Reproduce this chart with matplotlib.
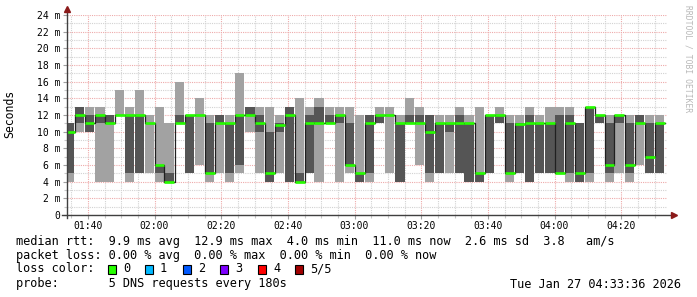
import matplotlib
matplotlib.use('Agg')
import matplotlib.pyplot as plt
import matplotlib.dates as mdates
from matplotlib.patches import Rectangle
from matplotlib.ticker import MultipleLocator, FuncFormatter
import numpy as np
import pandas as pd

W, H = 697, 297

# 5 sorted pings per 3 minute step (ms): min, 2nd, median, 4th, max
ping_min = [4, 10, 10, 4, 4, 12, 4, 5, 5, 4, 4, 11, 5, 6, 4, 5, 4, 5, 10, 5,
            4, 5, 4, 4, 5, 4, 11, 4, 5, 4, 4, 11, 5, 4, 11, 6, 4, 5, 5, 5,
            4, 4, 5, 11, 4, 5, 4, 5, 5, 5, 4, 4, 4, 11, 4, 5, 4, 6, 5, 5]
ping_lo = [5, 11, 10, 11, 11, 12, 5, 5, 11, 5, 4, 11, 5, 12, 5, 11, 5, 6, 12, 10,
           4, 10, 4, 4, 5, 11, 11, 11, 6, 4, 5, 11, 12, 4, 11, 11, 5, 5, 10, 5,
           4, 4, 5, 11, 5, 5, 4, 5, 5, 5, 5, 4, 5, 11, 5, 11, 5, 11, 5, 5]
median = [10, 12, 11, 12, 11, 12, 12, 12, 11, 6, 4, 11, 12, 12, 5, 11, 11, 12, 12, 11,
          5, 10.8, 12, 4, 11, 11, 11, 12, 6, 5, 11, 12, 12, 11, 11, 11, 10, 11, 11, 11,
          11, 5, 12, 12, 5, 10.9, 11, 11, 11, 5, 11, 5, 13, 12, 6, 12, 6, 11, 7, 11]
ping_hi = [11, 13, 12, 12, 12, 12, 12, 12, 11, 6, 5, 12, 12, 12, 11, 12, 11, 12, 13, 12,
           10, 11, 13, 5, 12, 13, 12, 12, 11, 5, 12, 12, 12, 11, 12, 12, 12, 11, 11, 12,
           11, 5, 12, 12, 11, 11, 12, 11, 11, 12, 12, 11, 13, 12, 11, 12, 11, 12, 11, 11]
ping_max = [11, 13, 13, 13, 12, 15, 13, 15, 12, 13, 11, 16, 12, 14, 12, 12, 12, 17, 13, 13,
            13, 12, 13, 14, 13, 14, 13, 13, 13, 12, 12, 13, 13, 12, 14, 13, 12, 12, 12, 13,
            12, 13, 12, 13, 12, 12, 13, 12, 13, 13, 13, 11, 13, 12, 12, 12, 12, 12, 12, 12]

steps = pd.date_range('2026-01-27 01:33', periods=len(median), freq='3min')
t_start = pd.Timestamp('2026-01-27 01:33:36')
t_end = pd.Timestamp('2026-01-27 04:33:36')

loss_labels = ['0', '1', '2', '3', '4', '5/5']
loss_colors = ['#26ff00', '#00b8ff', '#0059ff', '#7e00ff', '#ff0000', '#a10000']

legend_lines = [
    'median rtt:  9.9 ms avg  12.9 ms max  4.0 ms min  11.0 ms now  2.6 ms sd  3.8   am/s',
    'packet loss: 0.00 % avg  0.00 % max  0.00 % min  0.00 % now',
]
probe_text = 'probe:       5 DNS requests every 180s'
stamp = 'Tue Jan 27 04:33:36 2026'

mono = 'DejaVu Sans Mono'
plt.rcParams['font.family'] = mono

fig = plt.figure(figsize=(W / 100, H / 100), dpi=100, facecolor='white')
x0, x1, ytop, ybot = 66.5, 666.5, 15, 215
ax = fig.add_axes([x0 / W, 1 - ybot / H, (x1 - x0) / W, (ybot - ytop) / H])

x = mdates.date2num(steps)
w = 3 / 1440
lo_arr, hi_arr = np.array(ping_lo, float), np.array(ping_hi, float)
mn_arr, mx_arr = np.array(ping_min, float), np.array(ping_max, float)
med = np.array(median, float)

ax.bar(x, mx_arr - mn_arr, bottom=mn_arr, width=w, align='edge', color='#a2a2a2', lw=0, zorder=2)
ax.bar(x, hi_arr - lo_arr, bottom=lo_arr, width=w, align='edge', color='#555555', lw=0, zorder=3)
xs = np.append(x, x[-1] + w)
ax.step(xs, np.append(med, med[-1]), where='post', color='#202020', lw=0.9, zorder=4)
ax.hlines(med, x, x + w, colors=loss_colors[0], lw=1.9, zorder=5)

ax.set_xlim(mdates.date2num(t_start), mdates.date2num(t_end))
ax.set_ylim(0, 24)

ax.xaxis.set_major_locator(mdates.MinuteLocator(byminute=[0, 20, 40]))
ax.xaxis.set_minor_locator(mdates.MinuteLocator(byminute=range(0, 60, 5)))
ax.xaxis.set_major_formatter(mdates.DateFormatter('%H:%M'))
ax.yaxis.set_major_locator(MultipleLocator(2))
ax.yaxis.set_minor_locator(MultipleLocator(1))
ax.yaxis.set_major_formatter(FuncFormatter(lambda v, p: '0' if v == 0 else f'{v:.0f} m'))

ax.grid(which='minor', color='#d2d2d2', lw=0.8, ls=(0, (1, 1)))
ax.grid(which='major', color='#eeaaaa', lw=0.8, ls=(0, (1, 1)))
ax.set_axisbelow(True)

ax.tick_params(which='both', labelsize=7, colors='#000000', pad=1.5)
ax.tick_params(which='major', length=3, width=0.8, color='#a0a0a0')
ax.tick_params(which='minor', length=2, width=0.8, color='#c8c8c8')

for s in ['top', 'right', 'left', 'bottom']:
    ax.spines[s].set_visible(False)

# axes with arrow heads
ax.plot([0, 0], [-0.015, 1.02], transform=ax.transAxes, color='#404040', lw=1, clip_on=False, zorder=6)
ax.plot([-0.007, 1.01], [0, 0], transform=ax.transAxes, color='#404040', lw=1, clip_on=False, zorder=6)
ax.plot([0], [1.03], transform=ax.transAxes, marker='^', ms=4, color='#8b1a1a', clip_on=False, zorder=7)
ax.plot([1.013], [0], transform=ax.transAxes, marker='>', ms=4, color='#8b1a1a', clip_on=False, zorder=7)

fig.text(10 / W, 1 - 114 / H, 'Seconds', rotation=90, ha='center', va='center', fontsize=8.3)
fig.text(688 / W, 1 - 5 / H, 'RRDTOOL / TOBI OETIKER', rotation=270, ha='center', va='top',
         fontsize=5.8, color='#b8b8b8')

fs = 8.55
for i, line in enumerate(legend_lines):
    fig.text(16 / W, 1 - (241 + 14 * i) / H, line, ha='left', va='center', fontsize=fs)
fig.text(16 / W, 1 - 269 / H, 'loss color:', ha='left', va='center', fontsize=fs)
box_x = [108, 145, 183, 220, 258, 295]
for bx, lab, col in zip(box_x, loss_labels, loss_colors):
    fig.patches.append(Rectangle((bx / W, 1 - 274 / H), 8 / W, 9 / H, transform=fig.transFigure,
                                 facecolor=col, edgecolor='black', lw=0.8))
    fig.text((bx + 15) / W, 1 - 269 / H, lab, ha='left', va='center', fontsize=fs)
fig.text(16 / W, 1 - 284 / H, probe_text, ha='left', va='center', fontsize=fs)
fig.text(681 / W, 1 - 284 / H, stamp, ha='right', va='center', fontsize=fs)

fig.savefig('out.png', dpi=100, facecolor='white')
